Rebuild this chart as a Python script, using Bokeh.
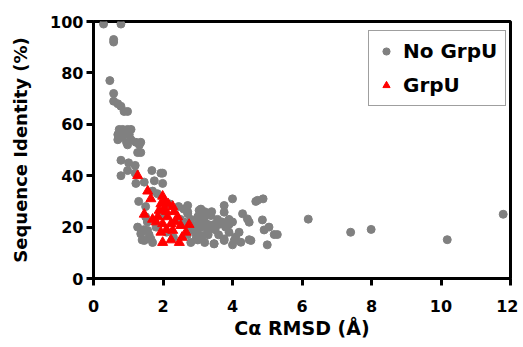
from bokeh.plotting import figure
from bokeh.models import Range1d, FixedTicker, Legend, LegendItem
from bokeh.embed import file_html
from bokeh.resources import INLINE

# No GrpU (grey circles)
no_x = [0.29, 0.79, 0.58, 0.58, 0.47, 0.58, 0.58, 0.70, 0.79, 0.88, 0.98,
        0.74, 0.84, 0.98, 1.08, 0.70, 0.79, 0.89, 1.03, 0.70, 0.82, 0.95, 1.08, 1.22, 1.36,
        0.98, 1.32, 1.27, 1.36, 0.79, 1.01, 1.20, 0.79, 0.98, 1.20, 1.68, 1.99,
        1.22, 1.46, 1.94, 1.75, 1.99, 1.70, 1.84,
        1.30, 1.50, 1.55, 1.45, 1.60, 1.40, 1.70, 1.50, 1.80, 2.10, 2.30, 2.00, 2.20, 2.45, 2.60, 2.50,
        1.27, 1.36, 1.46, 1.65, 1.56, 2.71, 3.04, 2.99, 2.95, 3.47, 3.76,
        3.09, 2.71, 3.18, 3.38, 3.57, 3.47, 3.04, 2.90, 3.09, 3.28, 2.95, 3.14, 3.47, 3.76, 3.90,
        4.05, 4.24, 4.29, 4.53, 4.72, 2.71, 3.76, 3.76, 4.00, 4.67, 4.88, 4.43, 4.48, 4.86, 4.91,
        5.05, 5.20, 5.29, 5.00, 4.48, 4.00, 4.09, 4.19,
        2.60, 2.80, 3.00, 3.20, 3.30, 3.40, 3.60, 3.70, 3.80, 3.90, 3.50, 3.30, 2.80, 2.70, 3.60,
        3.00, 2.80, 3.20, 3.90, 4.00, 3.20, 3.40,
        6.18, 7.40, 7.99, 10.18, 11.79]
no_y = [99, 99, 93, 92, 77, 72, 69, 68, 67, 65, 65,
        58, 58, 58, 58, 56, 56, 56, 56, 54, 55, 53, 54, 53, 53,
        52, 52, 49, 49, 46, 45, 44, 40, 42, 41, 42, 41,
        37, 37.5, 41, 38, 37, 34, 33,
        30, 28, 22, 19, 17, 15, 14, 24, 20, 18, 16, 25, 29, 28, 27, 23,
        20, 17.4, 14.8, 15.4, 18.7, 25.2, 26.5, 18.7, 15.4, 13.5, 15.4,
        27, 26, 24, 24.5, 23, 21, 22.6, 20.6, 20, 18.7, 17.4, 16.7, 13.5, 14.8, 18,
        14.8, 14.1, 25.2, 14.8, 30.4, 28.4, 28.4, 25.8, 31, 30, 31, 23.2, 21.9, 22.8, 18.9,
        20, 17.1, 17.1, 13.1, 15.1, 13.1, 16.1, 18,
        22, 23, 24, 22, 21, 20, 21, 22, 20, 21, 19, 17, 19, 17, 17,
        15, 14, 14, 23, 22, 26, 26,
        23.1, 18, 19.1, 15.1, 25]

# GrpU (red triangles)
g_x = [1.27, 1.56, 1.65, 1.99, 1.94, 1.46, 1.70, 1.89, 2.03, 2.28, 2.32, 2.13, 2.42,
       1.99, 2.23, 2.51, 2.75, 1.94, 2.28, 2.66, 1.99, 2.23, 2.47, 1.80, 2.10, 2.05,
       2.15, 1.85, 2.35, 2.55, 2.10]
g_y = [40, 34, 31, 32, 29, 25, 23, 26.5, 27, 28, 26, 24, 24,
       21.3, 21.3, 20.6, 21, 18, 18.7, 18, 14, 15, 14, 22, 19, 30,
       29, 24, 22, 16, 26]

x_ticks = [0, 2, 4, 6, 8, 10, 12]
y_ticks = [0, 20, 40, 60, 80, 100]

FONT = "DejaVu Sans"

p = figure(width=518, height=347, output_backend="svg", toolbar_location=None,
           x_range=Range1d(0, 12), y_range=Range1d(0, 100),
           min_border_left=93, min_border_right=8, min_border_top=21, min_border_bottom=69)
p.background_fill_color = "white"
p.border_fill_color = "white"
p.grid.visible = False
p.outline_line_color = "black"
p.outline_line_width = 3

r1 = p.scatter(no_x, no_y, marker="circle", size=8, fill_color="#808080", line_color="#808080")
r2 = p.scatter(g_x, g_y, marker="triangle", size=10, fill_color="#ff0000", line_color="#ff0000")

for ax in (p.xaxis[0], p.yaxis[0]):
    ax.axis_line_width = 3
    ax.axis_line_color = "black"
    ax.major_tick_line_width = 3
    ax.major_tick_line_color = "black"
    ax.major_tick_out = 7
    ax.major_tick_in = 0
    ax.minor_tick_line_color = None
    ax.major_label_text_font = FONT
    ax.major_label_text_font_style = "bold"
    ax.major_label_text_font_size = "16px"
    ax.major_label_text_color = "black"
    ax.axis_label_text_font = FONT
    ax.axis_label_text_font_style = "bold"
    ax.axis_label_text_color = "black"

p.xaxis[0].ticker = FixedTicker(ticks=x_ticks)
p.yaxis[0].ticker = FixedTicker(ticks=y_ticks)
p.xaxis[0].axis_label = "Cα RMSD (Å)"
p.yaxis[0].axis_label = "Sequence Identity (%)"
p.xaxis[0].axis_label_text_font_size = "19px"
p.yaxis[0].axis_label_text_font_size = "18px"
p.xaxis[0].major_label_standoff = 14
p.xaxis[0].axis_label_standoff = 2
p.yaxis[0].major_label_standoff = 3
p.yaxis[0].axis_label_standoff = 16

legend = Legend(items=[LegendItem(label="No GrpU", renderers=[r1]),
                       LegendItem(label="GrpU", renderers=[r2])],
                location=(275, 172))
legend.label_text_font = FONT
legend.label_text_font_style = "bold"
legend.label_text_font_size = "20px"
legend.label_text_color = "black"
legend.glyph_width = 18
legend.glyph_height = 24
legend.label_height = 24
legend.label_standoff = 8
legend.spacing = 10
legend.padding = 8
legend.margin = 0
legend.border_line_color = "#404040"
legend.border_line_width = 1.5
legend.background_fill_alpha = 1.0
p.add_layout(legend)

open("out.html", "w").write(file_html(p, INLINE))
